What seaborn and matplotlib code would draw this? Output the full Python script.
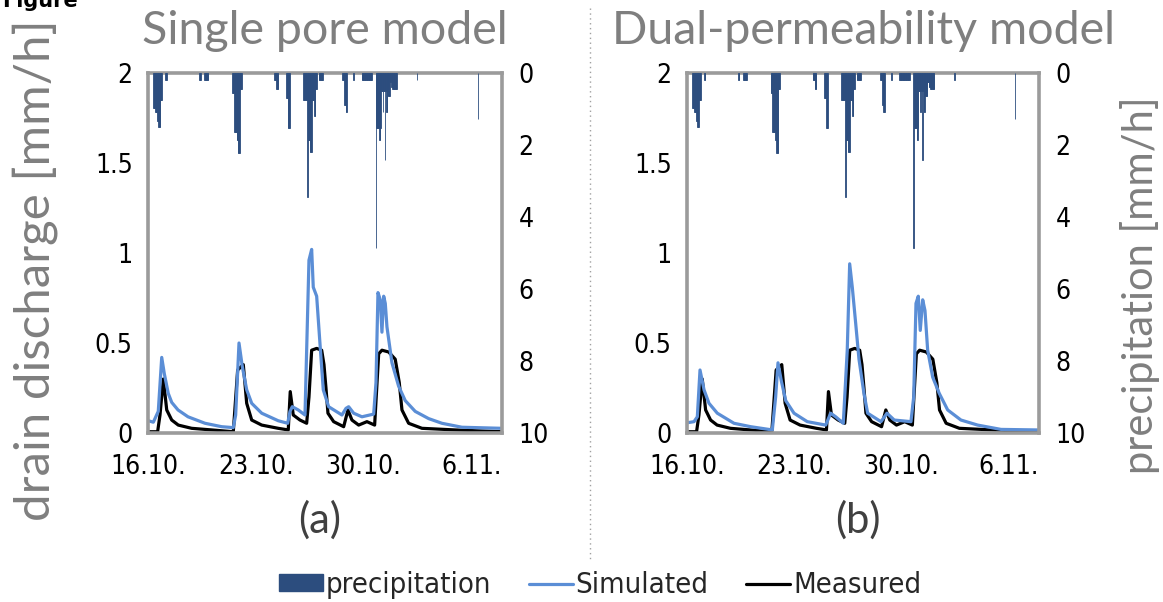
import numpy as np
import pandas as pd
import matplotlib
matplotlib.use("Agg")
import matplotlib.pyplot as plt
import seaborn as sns
from matplotlib.patches import Patch
from matplotlib.lines import Line2D
from matplotlib import font_manager as fm

# ---------------- data (hours since 16.10. 00:00) ----------------
tick_hours = [0, 168, 336, 504]
tick_labels = ["16.10.", "23.10.", "30.10.", "6.11."]
q_ticks = [0, 0.5, 1, 1.5, 2]
q_tick_labels = ["0", "0.5", "1", "1.5", "2"]
p_ticks = [0, 2, 4, 6, 8, 10]
p_tick_labels = ["0", "2", "4", "6", "8", "10"]

precip_hour = [8, 9, 10, 11, 12, 13, 14, 15, 16, 17, 18, 19, 20, 21, 27, 28,
               80, 81, 88, 89, 90, 91, 92, 93,
               131, 132, 133, 134, 135, 136, 137, 138, 139, 140, 141, 142, 143, 144, 145,
               197, 198, 199, 200, 201, 202,
               215, 216, 217, 218, 219, 220,
               242, 243, 244, 245, 246, 247, 248, 249, 250, 251, 252, 253, 254, 255, 256,
               257, 258, 259, 260, 261, 262, 266, 267, 268, 269, 270, 271, 272,
               303, 304, 305, 306, 307, 308, 309,
               320,
               333, 334, 335, 336, 337, 338, 339, 340, 341, 342, 343, 344, 345, 346, 347, 348,
               355, 356, 357, 358, 359, 360, 361, 362, 363, 364, 365, 366, 367, 368, 369, 370,
               371, 372, 373, 374, 375, 376, 377, 378, 379, 380, 381, 382, 383, 384, 385, 386, 387,
               419,
               514]
precip_mm = [0.97, 0.97, 0.97, 1.07, 1.07, 1.07, 1.32, 1.32, 1.49, 1.49, 1.49, 0.75, 0.75, 0.75, 0.2, 0.2,
             0.2, 0.2, 0.2, 0.2, 0.2, 0.2, 0.2, 0.2,
             0.55, 0.55, 0.55, 1.63, 1.63, 1.63, 1.63, 1.86, 1.86, 2.22, 2.22, 2.22, 0.45, 0.45, 0.45,
             0.2, 0.2, 0.2, 0.45, 0.45, 0.45,
             0.7, 0.7, 0.7, 1.53, 1.53, 1.53,
             0.75, 0.75, 0.75, 0.75, 0.75, 0.75, 3.44, 1.86, 1.86, 1.86, 2.2, 2.2, 2.2, 0.75, 0.75,
             0.75, 0.75, 1.2, 1.2, 0.45, 0.45, 0.2, 0.2, 0.2, 0.2, 0.2, 0.2, 0.2,
             0.2, 0.2, 0.2, 0.9, 0.9, 1.07, 1.07,
             0.2,
             0.2, 0.2, 0.2, 0.2, 0.2, 0.2, 0.2, 0.2, 0.2, 0.2, 0.2, 0.2, 0.2, 0.2, 0.2, 0.2,
             4.86, 1.53, 1.53, 1.53, 1.53, 1.86, 1.86, 1.53, 0.5, 0.5, 0.5, 1.07, 0.5, 0.5, 2.42, 0.5,
             1.07, 1.07, 0.5, 0.64, 0.64, 0.64, 0.25, 0.25, 0.4, 0.4, 0.45, 0.45, 0.45, 0.45, 0.45, 0.45, 0.45,
             0.2,
             1.28]

meas_hour = [0.5, 15, 18.7, 23.9, 29.2, 37, 47.2, 68.1, 99.3, 133, 139.8, 148.6, 153.9, 161.7,
             177.3, 203.1, 218.7, 221.8, 226.5, 237, 247.4, 251, 255.2, 263, 270.8, 274.4,
             277.5, 280.6, 289.5, 305.1, 311.8, 318, 328.5, 341.4, 353.4, 359.7, 364.8, 375.3,
             385.5, 391.8, 396, 406.4, 427.2, 479.1, 551.9]
meas_q = [0.007, 0.007, 0.1, 0.30, 0.128, 0.072, 0.044, 0.026, 0.017, 0.007, 0.35, 0.38, 0.165, 0.072,
          0.044, 0.026, 0.017, 0.23, 0.1, 0.072, 0.054, 0.2, 0.46, 0.47, 0.46, 0.38,
          0.25, 0.11, 0.063, 0.035, 0.128, 0.072, 0.044, 0.063, 0.044, 0.44, 0.46, 0.45,
          0.41, 0.28, 0.128, 0.054, 0.026, 0.017, 0.007]

sim_a_hour = [0.5, 8.3, 16, 21.4, 25.4, 31.6, 37, 46.8, 62.4, 88.9, 114.9, 133, 136.7, 141.9, 147,
              153.9, 161.7, 177.3, 203.1, 217.8, 221.4, 225, 234.3, 244.8, 251, 255.2, 257.7, 263,
              268.1, 273.3, 281.7, 302.4, 308.7, 312.9, 320.7, 333.6, 351.9, 355.5, 358.6, 362.2,
              364.8, 367.5, 370, 372.6, 380.4, 390.8, 401.1, 416.7, 437.6, 458.3, 489.5, 551.9]
sim_a_q = [0.068, 0.06, 0.12, 0.42, 0.33, 0.22, 0.17, 0.128, 0.09, 0.054, 0.035, 0.03, 0.1, 0.50, 0.37,
           0.24, 0.165, 0.11, 0.068, 0.054, 0.12, 0.146, 0.128, 0.1, 0.96, 1.02, 0.81, 0.76,
           0.5, 0.24, 0.146, 0.1, 0.137, 0.146, 0.11, 0.09, 0.105, 0.28, 0.78, 0.74,
           0.56, 0.76, 0.72, 0.59, 0.39, 0.26, 0.18, 0.12, 0.08, 0.054, 0.032, 0.026]

sim_b_hour = [0.5, 11, 16.2, 20.4, 26.7, 34.5, 47.5, 73.7, 99.9, 133.8, 139, 142.7, 147.9, 154.8,
              167.8, 188.6, 217.5, 225.3, 233.2, 245.1, 251.3, 255.1, 259.2, 264.5, 269.7, 277.5,
              283.3, 304.2, 313.6, 325, 351.2, 355.5, 359.1, 362.7, 365.8, 369.6, 373.2, 377.4,
              385.3, 395.6, 408.8, 429.6, 455.8, 492.4, 549.9]
sim_b_q = [0.057, 0.063, 0.09, 0.35, 0.24, 0.165, 0.11, 0.054, 0.035, 0.017, 0.2, 0.39, 0.29, 0.18,
           0.11, 0.063, 0.044, 0.11, 0.09, 0.054, 0.46, 0.94, 0.81, 0.61, 0.41, 0.22,
           0.11, 0.063, 0.11, 0.072, 0.063, 0.2, 0.72, 0.76, 0.57, 0.74, 0.68, 0.46,
           0.31, 0.22, 0.128, 0.072, 0.044, 0.02, 0.017]

titles = ["Single pore model", "Dual-permeability model"]
letters = ["(a)", "(b)"]

# ---------------- style ----------------
BAR_C = "#2C4D7E"
SIM_C = "#5B8ED6"
MEAS_C = "#000000"
SPINE_C = "#9B9B9B"
GREY_TXT = "#7F7F7F"

sns.set_theme(style="white")
plt.rcParams["font.family"] = ["DejaVu Sans"]
plt.rcParams["font.stretch"] = "condensed"
light = ["Lato", "DejaVu Sans"]

cond = fm.FontProperties(family="DejaVu Sans", stretch="condensed", size=19)

W, H = 1163, 602
fig = plt.figure(figsize=(W / 100, H / 100), dpi=100)

boxes = [(148, 502), (687, 1039)]
sims = [(sim_a_hour, sim_a_q), (sim_b_hour, sim_b_q)]
meas_df = pd.DataFrame({"hour": meas_hour, "q": meas_q})
precip_df = pd.DataFrame({"hour": precip_hour, "p": precip_mm})

for i, ((x0, x1), (sh, sq)) in enumerate(zip(boxes, sims)):
    ax = fig.add_axes([x0 / W, 1 - 433 / H, (x1 - x0) / W, 360 / H])
    sim_df = pd.DataFrame({"hour": sh, "q": sq})
    sns.lineplot(data=meas_df, x="hour", y="q", ax=ax, color=MEAS_C, lw=2.3,
                 estimator=None, sort=False)
    sns.lineplot(data=sim_df, x="hour", y="q", ax=ax, color=SIM_C, lw=2.3,
                 estimator=None, sort=False)
    ax.set_xlim(0, 552)
    ax.set_ylim(0, 2)
    ax.set_xticks(tick_hours)
    ax.set_xticklabels(tick_labels, fontproperties=cond)
    ax.set_yticks(q_ticks)
    ax.set_yticklabels(q_tick_labels, fontproperties=cond)
    ax.set_xlabel("")
    ax.set_ylabel("")
    ax.tick_params(axis="both", length=0, colors="black")
    ax.tick_params(axis="x", pad=15)
    ax.tick_params(axis="y", pad=11)
    for s in ax.spines.values():
        s.set_visible(True)
        s.set_color(SPINE_C)
        s.set_linewidth(2.6)

    ax2 = ax.twinx()
    ax2.bar(precip_df["hour"], precip_df["p"], width=1.0, align="edge",
            color=BAR_C, edgecolor=BAR_C, linewidth=0.6)
    ax2.set_ylim(10, 0)
    ax2.set_yticks(p_ticks)
    ax2.set_yticklabels(p_tick_labels, fontproperties=cond)
    ax2.tick_params(axis="y", length=0, pad=12, colors="black")
    for s in ax2.spines.values():
        s.set_visible(False)
    ax2.grid(False)
    ax.grid(False)

    cx = (x0 + x1) / 2
    fig.text(cx / W, 1 - 31 / H, titles[i], ha="center", va="center",
             fontsize=33.5, color=GREY_TXT, family=light, fontweight="normal",
             fontstretch="normal")
    fig.text((cx - 5) / W, 1 - 520 / H, letters[i], ha="center", va="center",
             fontsize=30, color="#404040", family=light, fontweight="normal",
             fontstretch="normal")

fig.text(35 / W, 1 - 270 / H, "drain discharge [mm/h]", rotation=90, ha="center",
         va="center", fontsize=35.5, color=GREY_TXT, family=light, fontweight="normal",
         fontstretch="normal")
fig.text(1140 / W, 1 - 285 / H, "precipitation [mm/h]", rotation=90, ha="center",
         va="center", fontsize=30, color=GREY_TXT, family=light, fontweight="normal",
         fontstretch="normal")

fig.text(0.002, 1 - 7 / H, "Figure", ha="left", va="baseline", fontsize=15,
         fontweight="bold", color="black", family=["DejaVu Sans"], fontstretch="normal")

fig.add_artist(Line2D([590 / W, 590 / W], [1 - 8 / H, 1 - 560 / H],
                      transform=fig.transFigure, ls=(0, (1, 2.5)), color="#A0A0A0", lw=1))

handles = [Patch(facecolor=BAR_C, edgecolor=BAR_C),
           Line2D([0], [0], color=SIM_C, lw=2.3),
           Line2D([0], [0], color=MEAS_C, lw=2.3)]
leg_font = fm.FontProperties(family="DejaVu Sans", stretch="condensed", size=21)
fig.legend(handles, ["precipitation", "Simulated", "Measured"], loc="center",
           bbox_to_anchor=(600 / W, 1 - 585 / H), ncol=3, frameon=False,
           prop=leg_font, handlelength=1.5, handletextpad=0.1, columnspacing=1.3,
           handleheight=0.5)

fig.savefig("out.png", dpi=100)
